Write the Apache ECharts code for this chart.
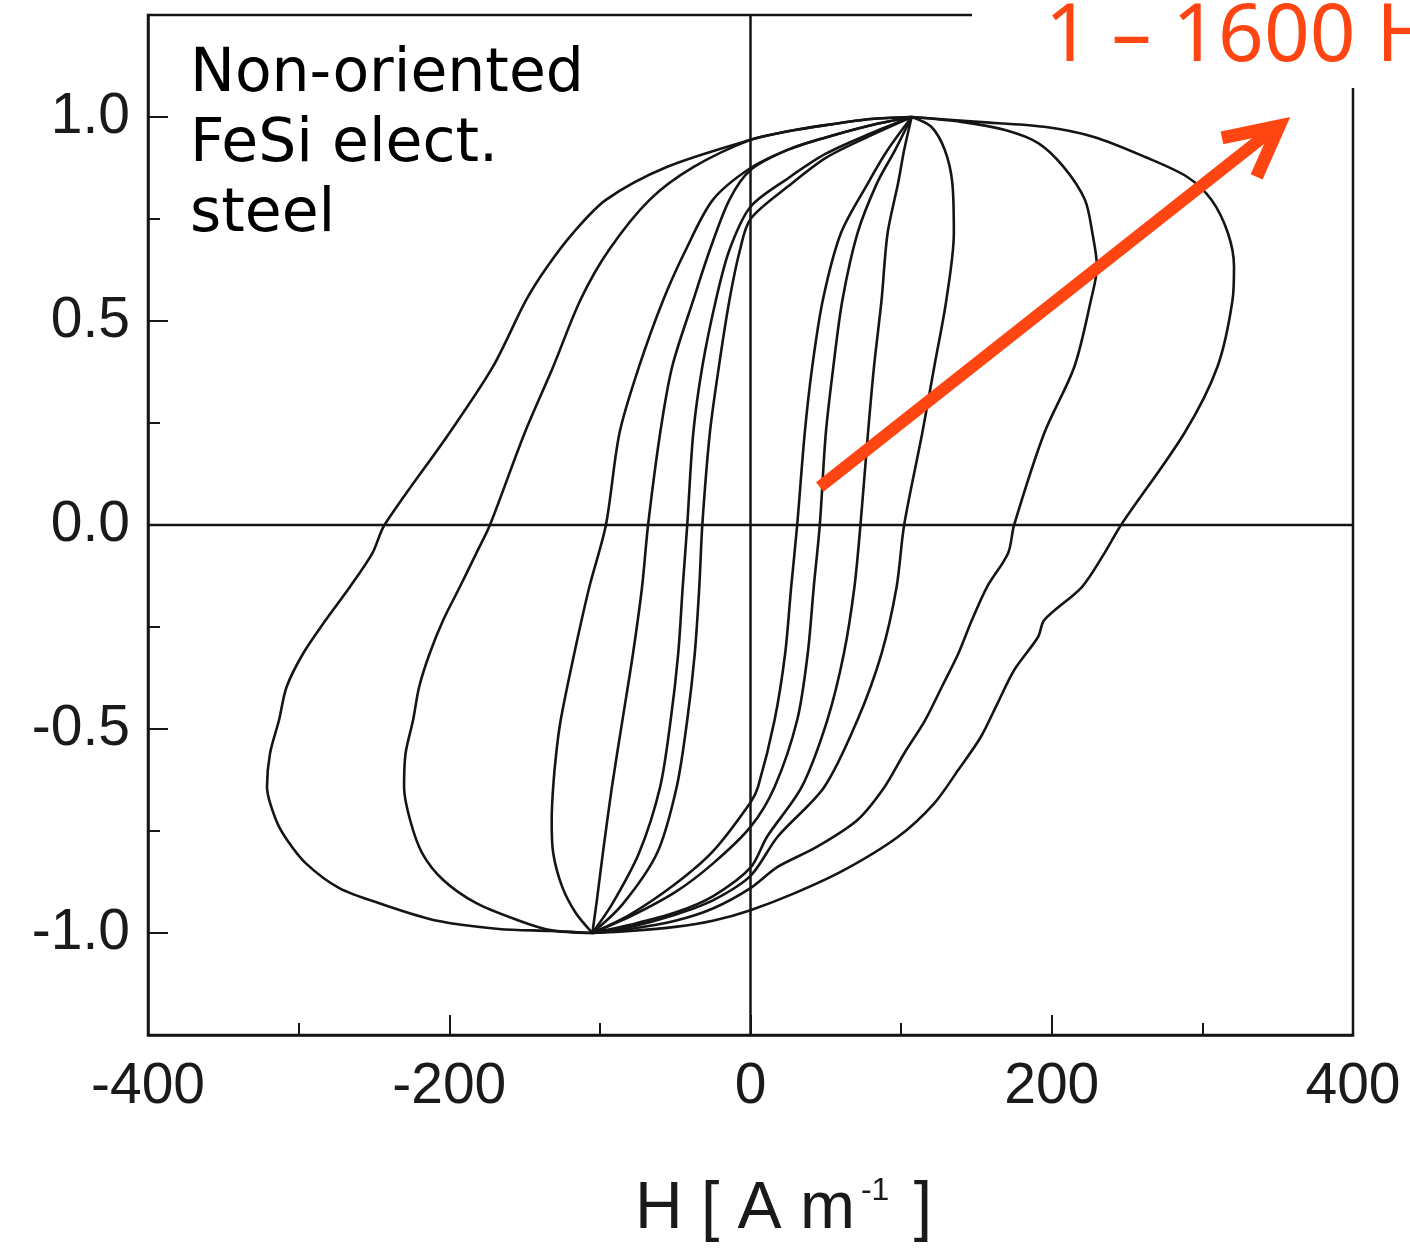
<!DOCTYPE html>
<html>
<head>
<meta charset="utf-8">
<script src="https://cdn.jsdelivr.net/npm/echarts@6/dist/echarts.min.js"></script>
<style>
  html, body { margin: 0; padding: 0; background: #fff; }
  #chart { width: 1410px; height: 1254px; }
</style>
</head>
<body>
<div id="chart"></div>
<script>
// axis ticks
var xTicks = [-400, -200, 0, 200, 400];
var yTicks = [-1.0, -0.5, 0.0, 0.5, 1.0];
var yMinorTicks = [-0.75, -0.25, 0.25, 0.75];

// hysteresis loops, H [A/m] vs B (normalised)
// each loop: descending branch (upper tip -> lower tip) and ascending branch (lower tip -> upper tip)
var loop1Down = [[107,1.0],[80,0.955],[50,0.90],[25,0.83],[0,0.75],[-7,0.674],[-14,0.551],[-21,0.388],[-27,0.225],[-32,0],[-34,-0.152],[-37,-0.315],[-42,-0.478],[-49,-0.642],[-62,-0.804],[-85,-0.93],[-105,-1.0]];
var loop1Up = [[-105,-1.0],[-80,-0.955],[-50,-0.88],[-25,-0.80],[0,-0.68],[5,-0.642],[16,-0.478],[23,-0.315],[27,-0.152],[31,0],[36,0.225],[41,0.388],[48,0.551],[60,0.715],[78,0.838],[91,0.919],[107,1.0]];

var loop2Down = [[107,1.0],[80,0.96],[50,0.91],[25,0.85],[0,0.78],[-14,0.674],[-23,0.551],[-32,0.388],[-38,0.225],[-42,0],[-45,-0.152],[-48,-0.315],[-53,-0.478],[-60,-0.642],[-74,-0.804],[-92,-0.93],[-105,-1.0]];
var loop2Up = [[-105,-1.0],[-80,-0.96],[-50,-0.90],[-25,-0.83],[0,-0.74],[16,-0.642],[31,-0.478],[38,-0.315],[42,-0.152],[46,0],[50,0.225],[55,0.388],[61,0.551],[71,0.715],[84,0.838],[96,0.919],[107,1.0]];

var loop3Down = [[107,1.0],[80,0.98],[50,0.95],[25,0.92],[0,0.87],[-14,0.797],[-27,0.674],[-38,0.551],[-52,0.388],[-60,0.225],[-68,0],[-72,-0.152],[-78,-0.315],[-85,-0.478],[-92,-0.642],[-98,-0.804],[-102,-0.92],[-105,-1.0]];
var loop3Up = [[-105,-1.0],[-80,-0.98],[-50,-0.95],[-25,-0.91],[0,-0.84],[11,-0.764],[34,-0.642],[51,-0.478],[62,-0.315],[69,-0.152],[73,0],[78,0.225],[82,0.388],[87,0.551],[91,0.715],[98,0.838],[102,0.919],[107,1.0]];

var loop4Down = [[107,1.0],[80,0.98],[50,0.95],[25,0.92],[0,0.875],[-25,0.797],[-43,0.674],[-58,0.551],[-74,0.388],[-87,0.225],[-96,0],[-107,-0.152],[-117,-0.315],[-126,-0.478],[-129,-0.56],[-131,-0.642],[-132,-0.723],[-131,-0.804],[-125,-0.887],[-116,-0.951],[-105,-1.0]];
var loop4Up = [[-105,-1.0],[-80,-0.985],[-50,-0.955],[-25,-0.92],[0,-0.86],[18,-0.764],[49,-0.642],[71,-0.478],[87,-0.315],[97,-0.152],[102,0],[114,0.225],[122,0.388],[130,0.551],[135,0.715],[134,0.838],[129,0.919],[120,0.976],[107,1.0]];

var loop5Down = [[107,1.0],[80,0.995],[50,0.98],[25,0.965],[0,0.944],[-38,0.877],[-67,0.797],[-94,0.674],[-113,0.551],[-131,0.388],[-150,0.225],[-173,0],[-182,-0.069],[-193,-0.152],[-204,-0.233],[-213,-0.315],[-220,-0.397],[-224,-0.478],[-229,-0.56],[-230,-0.642],[-226,-0.723],[-218,-0.804],[-204,-0.87],[-182,-0.927],[-155,-0.968],[-133,-0.993],[-105,-1.0]];
var loop5Up = [[-105,-1.0],[-80,-0.99],[-50,-0.97],[-25,-0.94],[0,-0.89],[18,-0.838],[44,-0.789],[71,-0.723],[89,-0.642],[102,-0.56],[116,-0.478],[127,-0.397],[138,-0.315],[147,-0.233],[157,-0.152],[171,-0.069],[175,0],[195,0.225],[215,0.388],[226,0.551],[230,0.633],[227,0.715],[222,0.797],[208,0.877],[191,0.936],[169,0.968],[140,0.988],[107,1.0]];

var loop6Down = [[107,1.0],[80,0.995],[50,0.98],[25,0.965],[0,0.944],[-56,0.877],[-96,0.797],[-118,0.715],[-135,0.633],[-149,0.551],[-171,0.388],[-200,0.225],[-243,0],[-251,-0.069],[-266,-0.152],[-282,-0.233],[-297,-0.315],[-308,-0.397],[-313,-0.478],[-319,-0.56],[-321,-0.642],[-315,-0.723],[-308,-0.77],[-295,-0.83],[-273,-0.89],[-244,-0.93],[-208,-0.97],[-167,-0.99],[-133,-0.995],[-105,-1.0]];
var loop6Up = [[-105,-1.0],[-80,-0.995],[-50,-0.985],[-25,-0.97],[0,-0.944],[29,-0.903],[62,-0.846],[98,-0.764],[122,-0.682],[138,-0.60],[153,-0.519],[164,-0.437],[175,-0.356],[191,-0.274],[195,-0.233],[220,-0.152],[235,-0.069],[246,0],[288,0.225],[310,0.388],[320,0.551],[321,0.633],[317,0.715],[306,0.797],[290,0.853],[262,0.902],[228,0.951],[195,0.976],[151,0.988],[107,1.0]];

var loops = [loop1Down, loop1Up, loop2Down, loop2Up, loop3Down, loop3Up,
             loop4Down, loop4Up, loop5Down, loop5Up, loop6Down, loop6Up];

// zero lines through the plot
var hZeroLine = [[-400, 0], [400, 0]];
var bZeroLine = [[0, -1.25], [0, 1.25]];

// red annotation arrow (data coordinates)
var arrowShaft = [[46, 0.093], [349, 0.976]];
var arrowHead = [[313, 0.949], [351, 0.978], [336, 0.853]];

var red = '#ff4512';
var ink = '#151515';
var labelFont = 'Liberation Sans, Arial, sans-serif';

var series = [];
series.push({
  type: 'line', data: hZeroLine, symbol: 'none', silent: true,
  lineStyle: { color: ink, width: 2.5 }, z: 1
});
series.push({
  type: 'line', data: bZeroLine, symbol: 'none', silent: true,
  lineStyle: { color: ink, width: 2.5 }, z: 1
});
loops.forEach(function (pts) {
  series.push({
    type: 'line', data: pts, symbol: 'none', smooth: 0.3,
    lineStyle: { color: ink, width: 2.6 }, z: 2
  });
});
series.push({
  type: 'line', data: arrowShaft, symbol: 'none',
  lineStyle: { color: red, width: 12, cap: 'butt' }, z: 5
});
series.push({
  type: 'line', data: arrowHead, symbol: 'none',
  lineStyle: { color: red, width: 13, cap: 'butt', join: 'miter' }, z: 5
});

var chart = echarts.init(document.getElementById('chart'));
chart.setOption({
  backgroundColor: '#fff',
  animation: false,
  grid: {
    left: 148, right: 57, top: 15, bottom: 219,
    show: true, borderColor: ink, borderWidth: 2.5, backgroundColor: 'transparent'
  },
  xAxis: {
    type: 'value', min: -400, max: 400, interval: 200,
    axisLine: { show: true, onZero: false, lineStyle: { color: ink, width: 2.5 } },
    axisTick: { show: true, inside: true, length: 20, lineStyle: { color: ink, width: 2 } },
    minorTick: { show: true, splitNumber: 2, length: 12, lineStyle: { color: ink, width: 2 } },
    splitLine: { show: false },
    axisLabel: {
      customValues: xTicks,
      margin: 24, fontSize: 57, color: '#1a1a1a', fontFamily: labelFont
    },
    name: '{a|H [ A m}{s|-1}{a| ]}',
    nameLocation: 'middle', nameGap: 140,
    nameTextStyle: {
      padding: [0, 0, 0, 66],
      rich: {
        a: { fontSize: 66, color: '#1a1a1a', fontFamily: labelFont },
        s: { fontSize: 32, color: '#1a1a1a', fontFamily: labelFont, padding: [0, 6, 38, 6] }
      }
    }
  },
  yAxis: [{
    type: 'value', min: -1.25, max: 1.25,
    axisLine: { show: true, onZero: false, lineStyle: { color: ink, width: 2.5 } },
    axisTick: { show: true, inside: true, length: 20, customValues: yTicks, lineStyle: { color: ink, width: 2 } },
    splitLine: { show: false },
    axisLabel: {
      customValues: yTicks,
      formatter: function (v) { return v.toFixed(1); },
      margin: 18, fontSize: 57, color: '#1a1a1a', fontFamily: labelFont
    }
  }, {
    type: 'value', min: -1.25, max: 1.25, position: 'left',
    axisLine: { show: false, onZero: false },
    axisTick: { show: true, inside: true, length: 12, customValues: yMinorTicks, lineStyle: { color: ink, width: 2 } },
    axisLabel: { show: false },
    splitLine: { show: false }
  }],
  series: series,
  graphic: [
    {
      type: 'text', z: 101, left: 190, top: 40,
      style: {
        text: 'Non-oriented\nFeSi elect.\nsteel',
        font: '60px "Comic Sans MS", "DejaVu Sans", sans-serif',
        lineHeight: 70, fill: '#000'
      }
    },
    {
      type: 'rect', z: 100,
      shape: { x: 972, y: 0, width: 438, height: 88 },
      style: { fill: '#ffffff' }
    },
    {
      type: 'text', z: 101, left: 1045, top: -2,
      style: {
        text: '1 \u2013 1600 Hz',
        font: '80px "Noto Sans", "DejaVu Sans", sans-serif',
        fill: red
      }
    }
  ]
});
</script>
</body>
</html>
